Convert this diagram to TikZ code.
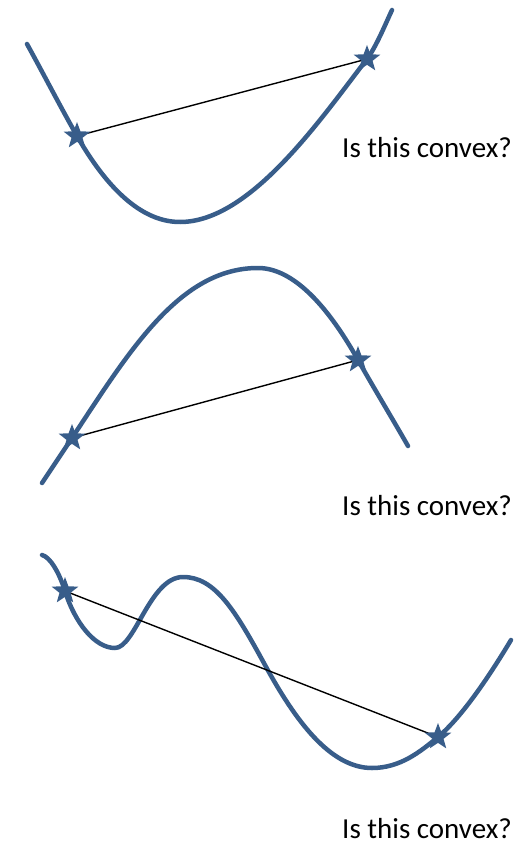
\documentclass[tikz,border=0pt]{standalone}
\usepackage{fontspec}
\setmainfont{Carlito}
\usetikzlibrary{shapes.geometric}
\definecolor{curveblue}{HTML}{385D8A}
\tikzset{
  curve/.style={curveblue, line width=4.5pt, line cap=round, line join=round},
  chord/.style={black, line width=1.4pt},
  starnode/.style={star, star points=5, star point ratio=2.4, fill=curveblue, draw=none, minimum size=28pt, inner sep=0pt},
  question/.style={font=\fontsize{29}{34}\selectfont, anchor=base east, inner sep=0pt}
}
\begin{document}
\begin{tikzpicture}[x=1pt,y=-1pt]
\useasboundingbox (0,0) rectangle (522,845);
% panel 1
\coordinate (a1) at (77,136);
\coordinate (b1) at (367,59);
\draw[curve] (27,44) .. controls (43,73) and (60,106) .. (a1)
  .. controls (100,176) and (135,222) .. (180,222)
  .. controls (250,222) and (320,120) .. (b1)
  .. controls (376,47) and (385,25) .. (392,10);
\draw[chord] (a1) -- (b1);
\node[starnode] (s1) at (a1) {};
\node[starnode] (t1) at (b1) {};
\node[question] (q1) at (512,158) {Is this convex?};
% panel 2
\coordinate (a2) at (72,438);
\coordinate (b2) at (358,360);
\draw[curve] (42,483) .. controls (52,468) and (62,453) .. (a2)
  .. controls (130,350) and (180,268) .. (258,268)
  .. controls (295,268) and (330,310) .. (b2)
  .. controls (375,390) and (392,418) .. (408,446);
\draw[chord] (a2) -- (b2);
\node[starnode] (s2) at (a2) {};
\node[starnode] (t2) at (b2) {};
\node[question] (q2) at (512,515) {Is this convex?};
% panel 3
\coordinate (a3) at (65,591);
\coordinate (b3) at (438,737);
\draw[curve] (42,555) .. controls (50,557) and (59,572) .. (a3)
  .. controls (75,623) and (95,648) .. (115,648)
  .. controls (135,648) and (150,577) .. (183,577)
  .. controls (215,577) and (235,610) .. (265,665)
  .. controls (295,720) and (330,768) .. (372,768)
  .. controls (400,768) and (420,752) .. (b3)
  .. controls (462,717) and (490,675) .. (511,640);
\draw[chord] (a3) -- (b3);
\node[starnode] (s3) at (a3) {};
\node[starnode] (t3) at (b3) {};
\node[question] (q3) at (512,838) {Is this convex?};
\end{tikzpicture}
\end{document}
